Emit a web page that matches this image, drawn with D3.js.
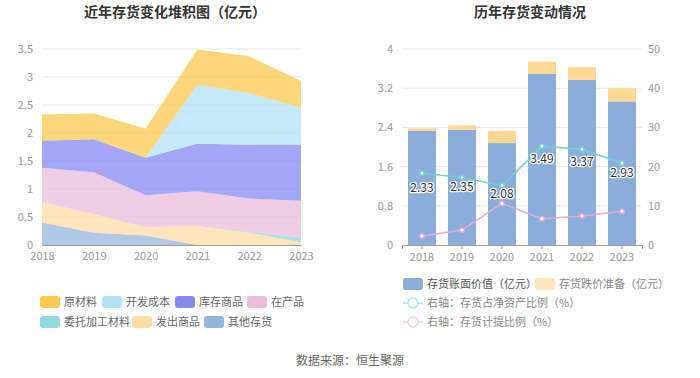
<!DOCTYPE html>
<html>
<head>
<meta charset="utf-8">
<script src="https://cdn.jsdelivr.net/npm/d3@7"></script>
<style>
  body { margin: 0; background: #fff; font-family: "Noto Sans CJK SC", "Noto Sans", sans-serif; }
  svg text { font-family: "Noto Sans CJK SC", "Noto Sans", sans-serif; }
</style>
</head>
<body>
<div id="chart"></div>
<script>
// data
const years = ['2018', '2019', '2020', '2021', '2022', '2023']
const stackNames = ['其他存货', '发出商品', '委托加工材料', '在产品', '库存商品', '开发成本', '原材料']
const otherStock = [0.40, 0.22, 0.17, 0, 0, 0]
const shippedGoods = [0.37, 0.33, 0.15, 0.34, 0.22, 0.05]
const consignedMaterial = [0, 0, 0, 0, 0.01, 0.09]
const wip = [0.61, 0.75, 0.57, 0.62, 0.60, 0.65]
const finishedGoods = [0.48, 0.59, 0.67, 0.85, 0.96, 1.00]
const devCost = [0, 0, 0, 1.05, 0.92, 0.66]
const rawMaterial = [0.47, 0.46, 0.52, 0.63, 0.66, 0.48]

const bookValue = [2.33, 2.35, 2.08, 3.49, 3.37, 2.93]
const provision = [0.05, 0.09, 0.25, 0.25, 0.26, 0.27]
const ratioNetAsset = [18.3, 17.2, 15.1, 25.2, 24.4, 20.9]
const ratioProvision = [2.3, 3.8, 10.6, 6.7, 7.4, 8.6]

const leftTicks = [0, 0.5, 1, 1.5, 2, 2.5, 3, 3.5]
const rightTicksL = [0, 0.8, 1.6, 2.4, 3.2, 4]
const rightTicksR = [0, 10, 20, 30, 40, 50]

const stackColors = {
  '原材料': '#fcc33e', '开发成本': '#a8dff8', '库存商品': '#797ef0', '在产品': '#e8b6d8',
  '委托加工材料': '#86d6d8', '发出商品': '#fed99b', '其他存货': '#8badd9'
}

const W = 700, H = 378
const svg = d3.select('#chart').append('svg').attr('width', W).attr('height', H)

// titles
svg.append('text').attr('x', 175).attr('y', 17).attr('text-anchor', 'middle')
  .style('font-size', '14px').style('font-weight', 'bold').attr('fill', '#333').text('近年存货变化堆积图（亿元）')
svg.append('text').attr('x', 530).attr('y', 17).attr('text-anchor', 'middle')
  .style('font-size', '14px').style('font-weight', 'bold').attr('fill', '#333').text('历年存货变动情况')

// ---------- left: stacked area ----------
let rows = years.map(function(y, i) {
  return {
    year: y, '其他存货': otherStock[i], '发出商品': shippedGoods[i], '委托加工材料': consignedMaterial[i],
    '在产品': wip[i], '库存商品': finishedGoods[i], '开发成本': devCost[i], '原材料': rawMaterial[i]
  }
})
let xL = d3.scalePoint().domain(years).range([42, 301])
let yL = d3.scaleLinear().domain([0, 3.5]).range([245, 49])

let gL = svg.append('g')
gL.selectAll('.grid').data(leftTicks.slice(1)).enter().append('line')
  .attr('x1', 42).attr('x2', 301).attr('y1', d => yL(d)).attr('y2', d => yL(d))
  .attr('stroke', '#e6e9f4').attr('stroke-width', 1)

let series = d3.stack().keys(stackNames)(rows)
let area = d3.area().x(d => xL(d.data.year)).y0(d => yL(d[0])).y1(d => yL(d[1]))
gL.selectAll('.area').data(series).enter().append('path')
  .attr('d', area).attr('fill', d => stackColors[d.key]).attr('fill-opacity', 0.68)

let axL = gL.append('g').attr('transform', 'translate(0,245)')
  .call(d3.axisBottom(xL).tickSize(0).tickPadding(7))
axL.select('.domain').attr('stroke', '#999')
axL.selectAll('text').attr('fill', '#999').style('font-size', '11px')

let ayL = gL.append('g').attr('transform', 'translate(36,0)')
  .call(d3.axisLeft(yL).tickValues(leftTicks).tickSize(0).tickFormat(d3.format('')))
ayL.select('.domain').remove()
ayL.selectAll('text').attr('fill', '#999').style('font-size', '11px')

// left legend
let legL = [
  {name: '原材料', x: 40, y: 302}, {name: '开发成本', x: 102, y: 302}, {name: '库存商品', x: 175, y: 302},
  {name: '在产品', x: 247, y: 302}, {name: '委托加工材料', x: 40, y: 322}, {name: '发出商品', x: 132, y: 322},
  {name: '其他存货', x: 204, y: 322}
]
let lgL = svg.append('g').selectAll('g').data(legL).enter().append('g')
  .attr('transform', d => 'translate(' + d.x + ',' + d.y + ')')
lgL.append('rect').attr('x', 0).attr('y', -6).attr('width', 20).attr('height', 12).attr('rx', 3)
  .attr('fill', d => stackColors[d.name]).attr('fill-opacity', 0.9)
lgL.append('text').attr('x', 24).attr('y', 4).attr('fill', '#666').style('font-size', '11px').text(d => d.name)

// ---------- right: bars + lines ----------
let xR = d3.scaleBand().domain(years).range([402, 642]).paddingInner(0.3).paddingOuter(0.15)
let yR = d3.scaleLinear().domain([0, 4]).range([245, 49])
let yR2 = d3.scaleLinear().domain([0, 50]).range([245, 49])

let gR = svg.append('g')
gR.selectAll('.grid').data(rightTicksL.slice(1)).enter().append('line')
  .attr('x1', 402).attr('x2', 642).attr('y1', d => yR(d)).attr('y2', d => yR(d))
  .attr('stroke', '#e6e9f4').attr('stroke-width', 1)

gR.selectAll('.bar').data(years).enter().append('rect')
  .attr('x', d => xR(d)).attr('width', xR.bandwidth())
  .attr('y', (d, i) => yR(bookValue[i])).attr('height', (d, i) => yR(0) - yR(bookValue[i]))
  .attr('fill', '#8badd9')
gR.selectAll('.bar2').data(years).enter().append('rect')
  .attr('x', d => xR(d)).attr('width', xR.bandwidth())
  .attr('y', (d, i) => yR(bookValue[i] + provision[i])).attr('height', (d, i) => yR(0) - yR(provision[i]))
  .attr('fill', '#fed893')

let cx = d => xR(d) + xR.bandwidth() / 2
let line1 = d3.line().x((d, i) => cx(years[i])).y(d => yR2(d))
gR.append('path').datum(ratioNetAsset).attr('d', line1).attr('fill', 'none').attr('stroke', '#6dd3d3').attr('stroke-width', 1.5)
gR.append('path').datum(ratioProvision).attr('d', line1).attr('fill', 'none').attr('stroke', '#e6a9d8').attr('stroke-width', 1.5)
gR.selectAll('.p1').data(ratioNetAsset).enter().append('circle')
  .attr('cx', (d, i) => cx(years[i])).attr('cy', d => yR2(d)).attr('r', 2.2)
  .attr('fill', '#fff').attr('stroke', '#6dd3d3').attr('stroke-width', 1.5)
gR.selectAll('.p2').data(ratioProvision).enter().append('circle')
  .attr('cx', (d, i) => cx(years[i])).attr('cy', d => yR2(d)).attr('r', 2.2)
  .attr('fill', '#fff').attr('stroke', '#e6a9d8').attr('stroke-width', 1.5)

// bar labels
gR.selectAll('.lbl').data(bookValue).enter().append('text')
  .attr('x', (d, i) => cx(years[i])).attr('y', d => yR(d / 2) + 4).attr('text-anchor', 'middle')
  .style('font-size', '12px').attr('fill', '#333').attr('stroke', '#fff').attr('stroke-width', 2.5)
  .style('paint-order', 'stroke').attr('stroke-linejoin', 'round').text(d => d.toFixed(2))

let axR = gR.append('g').attr('transform', 'translate(0,245)')
  .call(d3.axisBottom(xR).tickSize(4).tickPadding(4))
axR.select('.domain').attr('stroke', '#999')
axR.selectAll('line').attr('stroke', '#999')
axR.selectAll('text').attr('fill', '#999').style('font-size', '11px')

let ayR = gR.append('g').attr('transform', 'translate(396,0)')
  .call(d3.axisLeft(yR).tickValues(rightTicksL).tickSize(0).tickFormat(d3.format('')))
ayR.select('.domain').remove()
ayR.selectAll('text').attr('fill', '#999').style('font-size', '11px')

let ayR2 = gR.append('g').attr('transform', 'translate(648,0)')
  .call(d3.axisRight(yR2).tickValues(rightTicksR).tickSize(0).tickPadding(0))
ayR2.select('.domain').remove()
ayR2.selectAll('text').attr('fill', '#999').style('font-size', '11px')

// right legend
let lgR = svg.append('g')
lgR.append('rect').attr('x', 403).attr('y', 278).attr('width', 20).attr('height', 12).attr('rx', 3).attr('fill', '#8badd9')
lgR.append('text').attr('x', 427).attr('y', 288).attr('fill', '#555').style('font-size', '11px').text('存货账面价值（亿元）')
lgR.append('rect').attr('x', 535).attr('y', 278).attr('width', 20).attr('height', 12).attr('rx', 3).attr('fill', '#fee4bd')
lgR.append('text').attr('x', 559).attr('y', 288).attr('fill', '#888').style('font-size', '11px').text('存货跌价准备（亿元）')
let lineLeg = [{c: '#a9e6e6', t: '右轴：存货占净资产比例（%）', y: 303}, {c: '#f2cde9', t: '右轴：存货计提比例（%）', y: 322}]
let ll = lgR.selectAll('.ll').data(lineLeg).enter().append('g')
ll.append('line').attr('x1', 403).attr('x2', 423).attr('y1', d => d.y).attr('y2', d => d.y).attr('stroke', d => d.c).attr('stroke-width', 1.5)
ll.append('circle').attr('cx', 413).attr('cy', d => d.y).attr('r', 5).attr('fill', '#fff').attr('stroke', d => d.c).attr('stroke-width', 1.5)
ll.append('text').attr('x', 427).attr('y', d => d.y + 4).attr('fill', '#888').style('font-size', '11px').text(d => d.t)

// footer
svg.append('text').attr('x', 350).attr('y', 365).attr('text-anchor', 'middle').attr('fill', '#666')
  .style('font-size', '12px').text('数据来源：恒生聚源')
</script>
</body>
</html>
